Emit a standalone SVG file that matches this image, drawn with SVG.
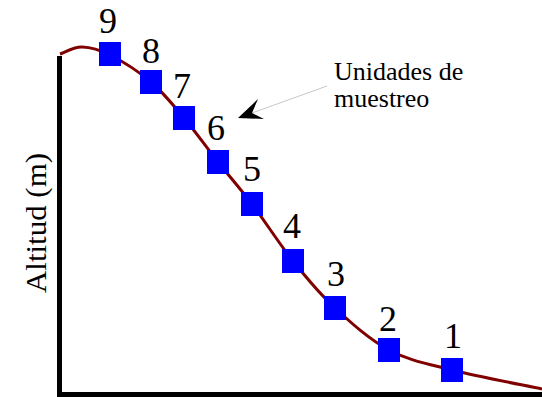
<svg xmlns="http://www.w3.org/2000/svg" width="542" height="397" viewBox="0 0 542 397">
<style>
text{font-family:'Liberation Serif','Times New Roman',Tinos,'DejaVu Serif','Noto Serif',serif}
.num{font-size:36px;fill:#000;text-anchor:middle}
.lbl{font-size:26px;fill:#000}
.sq{fill:#0000ff}
.axis{stroke:#000;stroke-width:5;fill:none}
</style>
<rect width="542" height="397" fill="#fff"/>
<g id="axes">
<line class="axis" x1="59.5" y1="56" x2="59.5" y2="397"/>
<line class="axis" x1="57" y1="394.5" x2="542" y2="394.5"/>
</g>
<g id="connectors">
<path d="M60,54 C63.7,52.8 73.7,46.8 82,47 C90.3,47.2 98.5,49.2 110,55 C121.5,60.8 138.7,71.5 151,82 C163.3,92.5 172.8,104.7 184,118 C195.2,131.3 206.7,147.7 218,162 C229.3,176.3 239.5,187.5 252,204 C264.5,220.5 279.2,243.7 293,261 C306.8,278.3 319,293.2 335,308 C351,322.8 369.5,339.7 389,350 C408.5,360.3 426.5,363.5 452,370 C477.5,376.5 527,385.8 542,389" fill="none" stroke="#800000" stroke-width="3"/>
<line x1="327" y1="86" x2="252" y2="113" stroke="#c8c8c8" stroke-width="1"/>
<polygon points="238,118 258,99 252,113 264,119" fill="#000"/>
</g>
<g id="n9"><rect class="sq" x="99" y="42" width="22" height="24"/><text class="num" x="108" y="33">9</text></g>
<g id="n8"><rect class="sq" x="140" y="70" width="22" height="24"/><text class="num" x="151" y="63">8</text></g>
<g id="n7"><rect class="sq" x="173" y="106" width="22" height="24"/><text class="num" x="182" y="98">7</text></g>
<g id="n6"><rect class="sq" x="207" y="150" width="22" height="24"/><text class="num" x="216" y="140">6</text></g>
<g id="n5"><rect class="sq" x="241" y="192" width="22" height="24"/><text class="num" x="252" y="181">5</text></g>
<g id="n4"><rect class="sq" x="282" y="249" width="22" height="24"/><text class="num" x="292" y="238">4</text></g>
<g id="n3"><rect class="sq" x="324" y="296" width="22" height="24"/><text class="num" x="336" y="286">3</text></g>
<g id="n2"><rect class="sq" x="378" y="338" width="22" height="24"/><text class="num" x="388" y="331">2</text></g>
<g id="n1"><rect class="sq" x="441" y="358" width="22" height="24"/><text class="num" x="453" y="348">1</text></g>
<g id="label-unidades">
<text class="lbl" x="334" y="80">Unidades de</text>
<text class="lbl" x="334" y="107">muestreo</text>
</g>
<g id="label-altitud">
<text class="lbl" transform="translate(46,293) rotate(-90)" style="font-size:30px" textLength="140" lengthAdjust="spacingAndGlyphs">Altitud (m)</text>
</g>
</svg>
